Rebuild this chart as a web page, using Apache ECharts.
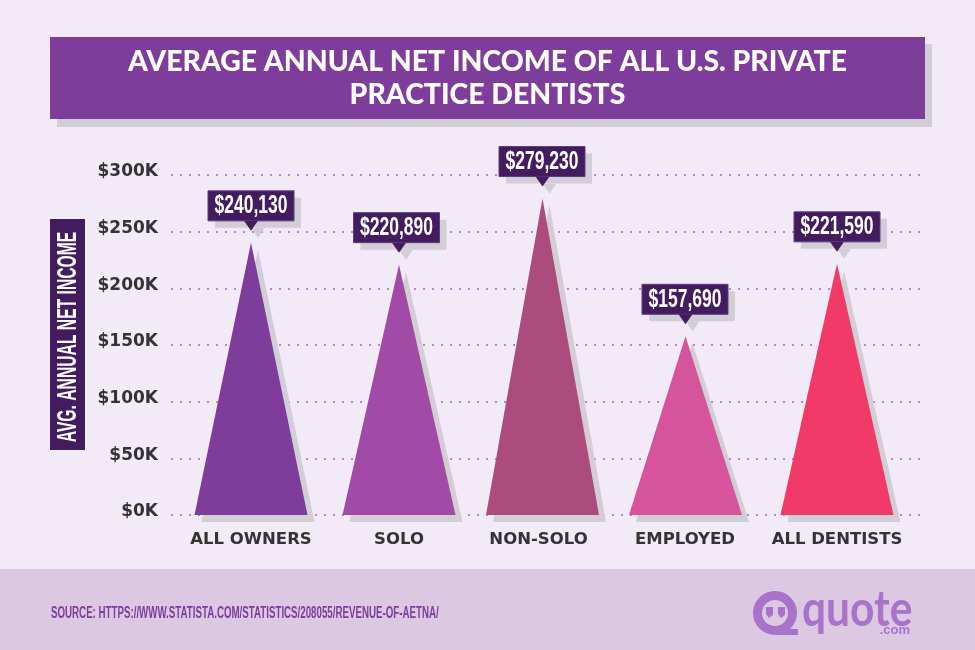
<!DOCTYPE html>
<html>
<head>
<meta charset="utf-8">
<style>
  html, body { margin: 0; padding: 0; background: #f2eaf6; }
  #chart { width: 975px; height: 650px; }
</style>
<script src="https://cdn.jsdelivr.net/npm/echarts@6/dist/echarts.min.js"></script>
</head>
<body>
<div id="chart"></div>
<script>
const categories = ['ALL OWNERS', 'SOLO', 'NON-SOLO', 'EMPLOYED', 'ALL DENTISTS'];
const values = [240130, 220890, 279230, 157690, 221590];
const yTicks = [0, 50000, 100000, 150000, 200000, 250000, 300000];

// the groups are not evenly spaced in the picture, so the x axis runs in page pixels
const barCentres = [251, 399, 542.5, 685.5, 837];
const labelCentres = [251, 399, 538.5, 685, 837];
const bubbleCentres = [251, 396.5, 542, 685, 837];
const barColors = ['#7e3c9b', '#a24ba6', '#ab4c7c', '#d6549b', '#f23a68'];

const SHADOW = '#d3cdd6';
const DARK = '#421c5f';
const LOGO = '#a873c9';

const chart = echarts.init(document.getElementById('chart'));

function renderBar(params, api) {
  const i = params.dataIndex;
  const top = api.coord([api.value(0), api.value(1)]);
  const left = api.coord([api.value(0) - 56.5, 0]);
  const right = api.coord([api.value(0) + 56.5, 0]);
  const bx = bubbleCentres[i];
  const tipY = top[1] - 12;
  const bubble = (dx, dy, fill, stroke) => [
    { type: 'rect', shape: { x: bx - 43 + dx, y: tipY - 40 + dy, width: 86, height: 30 },
      style: { fill: fill, stroke: stroke, lineWidth: stroke ? 1 : 0 } },
    { type: 'polygon', shape: { points: [[top[0] - 7 + dx, tipY - 10 + dy], [top[0] + 7 + dx, tipY - 10 + dy], [top[0] + dx, tipY + dy]] },
      style: { fill: fill } }
  ];
  return {
    type: 'group',
    children: [
      { type: 'polygon', shape: { points: [[top[0] + 7, top[1] + 7], [left[0] + 7, left[1] + 7], [right[0] + 7, right[1] + 7]] },
        style: { fill: SHADOW } },
      { type: 'polygon', shape: { points: [top, left, right] }, style: { fill: barColors[i] } },
      ...bubble(7, 7, SHADOW),
      ...bubble(0, 0, DARK, '#5d3c7a'),
      { type: 'text', x: bx, y: tipY - 24.5, scaleX: 0.7,
        style: { text: '$' + api.value(1).toLocaleString('en-US'), fill: '#fff', align: 'center', verticalAlign: 'middle',
          font: 'bold 25px "Liberation Sans"' } }
    ]
  };
}

const option = {
  backgroundColor: '#f2eaf6',
  animation: false,
  title: {
    text: 'AVERAGE ANNUAL NET INCOME OF ALL U.S. PRIVATE\nPRACTICE DENTISTS',
    left: 487.5,
    top: 45.5,
    padding: 0,
    textAlign: 'center',
    textStyle: { color: '#fff', fontFamily: 'Lato', fontWeight: 900, fontSize: 28.4, lineHeight: 33 }
  },
  grid: { left: 171, right: 54, top: 175, bottom: 135 },
  xAxis: {
    type: 'value',
    min: 171,
    max: 921,
    splitLine: { show: false },
    axisLine: { show: false },
    axisTick: { show: false },
    axisLabel: {
      customValues: labelCentres,
      formatter: v => categories[labelCentres.indexOf(v)],
      color: '#333',
      fontFamily: 'DejaVu Sans',
      fontWeight: 'bold',
      fontSize: 16.5,
      margin: 16
    }
  },
  yAxis: {
    type: 'value',
    min: yTicks[0],
    max: yTicks[yTicks.length - 1],
    interval: 50000,
    axisLine: { show: false },
    axisTick: { show: false },
    axisLabel: {
      formatter: v => '$' + v / 1000 + 'K',
      color: '#333',
      fontFamily: 'DejaVu Sans',
      fontWeight: 'bold',
      fontSize: 17,
      margin: 13,
      verticalAlign: 'bottom',
      lineHeight: 6
    },
    splitLine: { lineStyle: { color: '#a066c4', width: 1.5, type: [2, 7] } }
  },
  series: [{
    type: 'custom',
    coordinateSystem: 'cartesian2d',
    clip: false,
    renderItem: renderBar,
    encode: { x: 0, y: 1 },
    data: values.map((v, i) => [barCentres[i], v])
  }],
  graphic: [
    { type: 'rect', z: -1, shape: { x: 57, y: 44, width: 875, height: 83 }, style: { fill: SHADOW } },
    { type: 'rect', z: -1, shape: { x: 50, y: 37, width: 875, height: 82 }, style: { fill: '#7e3c9b' } },
    { type: 'rect', z: -1, shape: { x: 0, y: 569, width: 975, height: 81 }, style: { fill: '#dcc8e3' } },
    // y axis title box
    { type: 'rect', shape: { x: 50, y: 219, width: 35, height: 231 }, style: { fill: DARK } },
    { type: 'text', x: 68, y: 337, rotation: Math.PI / 2, scaleX: 0.56, style: {
      text: 'AVG. ANNUAL NET INCOME', fill: '#fff', font: 'bold 28px "Liberation Sans"', align: 'center', verticalAlign: 'middle' } },
    { type: 'text', x: 51, y: 614, scaleX: 0.608, style: {
      text: 'SOURCE: HTTPS://WWW.STATISTA.COM/STATISTICS/208055/REVENUE-OF-AETNA/',
      fill: '#7e3c9b', font: 'bold 16px "Liberation Sans"', verticalAlign: 'middle' } },
    // quote.com logo
    { type: 'circle', shape: { cx: 775, cy: 613, r: 17.5 }, style: { fill: 'none', stroke: LOGO, lineWidth: 9 } },
    { type: 'rect', shape: { x: 776, y: 629, width: 22, height: 6 }, style: { fill: LOGO } },
    { type: 'polygon', shape: { points: [[766, 607], [773, 607], [773, 615], [769, 618], [766, 614]] }, style: { fill: LOGO } },
    { type: 'polygon', shape: { points: [[778, 607], [785, 607], [785, 615], [781, 618], [778, 614]] }, style: { fill: LOGO } },
    { type: 'text', x: 802, y: 610, scaleX: 0.85, style: { text: 'quote', fill: LOGO, font: 'bold 50px Lato', verticalAlign: 'middle' } },
    { type: 'text', x: 910, y: 630, style: { text: '.com', fill: LOGO, font: 'bold 13px "Liberation Sans"', align: 'right', verticalAlign: 'middle' } }
  ]
};

chart.setOption(option);
</script>
</body>
</html>
